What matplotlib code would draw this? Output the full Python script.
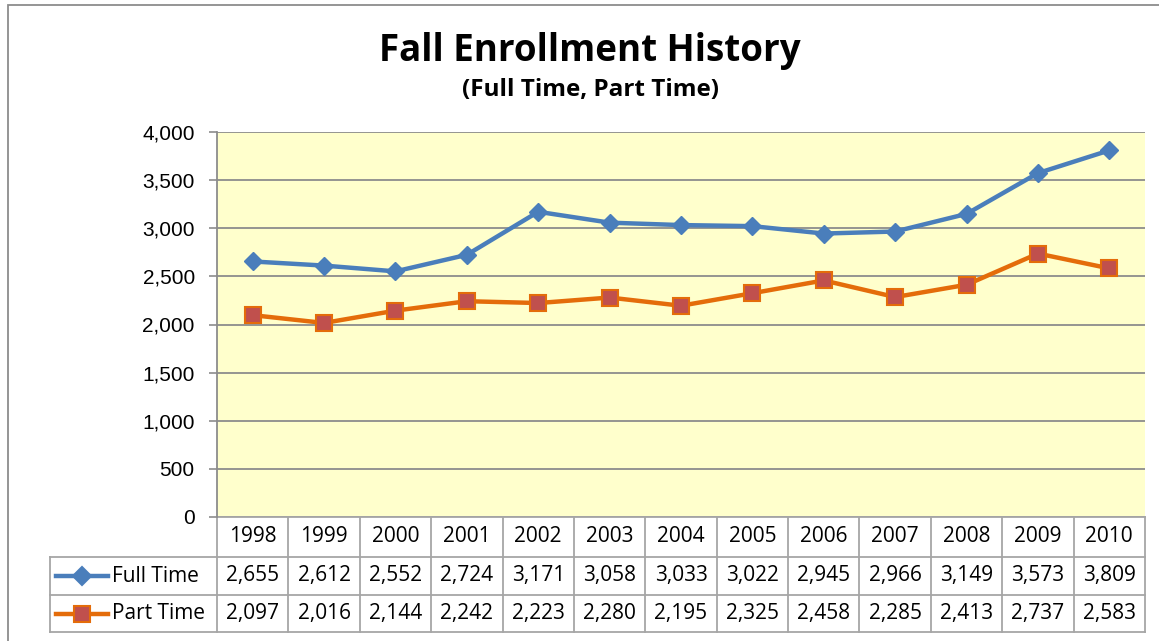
import matplotlib
matplotlib.use('Agg')
import matplotlib.pyplot as plt
from matplotlib.patches import Rectangle
from matplotlib.lines import Line2D
import matplotlib.transforms as mtransforms
import numpy as np

years = ['1998', '1999', '2000', '2001', '2002', '2003', '2004',
         '2005', '2006', '2007', '2008', '2009', '2010']
full_time = [2655, 2612, 2552, 2724, 3171, 3058, 3033, 3022, 2945, 2966, 3149, 3573, 3809]
part_time = [2097, 2016, 2144, 2242, 2223, 2280, 2195, 2325, 2458, 2285, 2413, 2737, 2583]
y_ticks = [0, 500, 1000, 1500, 2000, 2500, 3000, 3500, 4000]

W, H = 1159, 641
fig = plt.figure(figsize=(W / 100, H / 100), dpi=100)

# plot area in pixels
left, right, top, bottom = 217, 1145, 132, 517
ax = fig.add_axes([left / W, 1 - bottom / H, (right - left) / W, (bottom - top) / H])
ax.set_facecolor('#FFFFCC')

grid_col = '#8C8C8C'
x = np.arange(len(years))
ax.plot(x, full_time, color='#4A7EBB', lw=3.2, marker='D', ms=9,
        mfc='#4A7EBB', mec='#4A7EBB', zorder=3, clip_on=False)
ax.plot(x, part_time, color='#E46C0A', lw=3.2, marker='s', ms=12,
        mfc='#C0504D', mec='#E46C0A', mew=1.5, zorder=3, clip_on=False)

ax.set_xlim(-0.5, len(years) - 0.5)
ax.set_ylim(0, 4000)
ax.set_yticks(y_ticks)
ax.set_yticklabels([f'{v:,}' for v in y_ticks], fontsize=15, family='Liberation Sans')
ax.set_xticks([])
ax.yaxis.grid(True, color=grid_col, lw=1.3)
ax.set_axisbelow(True)
ax.tick_params(axis='y', length=6, width=1.2, color=grid_col, pad=10)
for s in ['top', 'right', 'bottom']:
    ax.spines[s].set_visible(False)
ax.spines['left'].set_color(grid_col)
ax.spines['left'].set_linewidth(1.3)

# data table below the plot
ph = bottom - top
row_edges = [517, 557, 595, 632]
ry = [-(r - bottom) / ph for r in row_edges]
trans = mtransforms.blended_transform_factory(ax.transData, ax.transAxes)
tkw = dict(color='#A6A6A6', lw=1.3, clip_on=False)
leg_x = (50 - left) / (right - left)

for i in range(len(years) + 1):
    ax.add_line(Line2D([i - 0.5, i - 0.5], [ry[0], ry[3]], transform=trans, **tkw))
for k, yy in enumerate(ry):
    if k == 0:
        ax.add_line(Line2D([-0.5, len(years) - 0.5], [yy, yy], transform=trans, **tkw))
    else:
        ax.add_line(Line2D([leg_x, 1], [yy, yy], transform=ax.transAxes, **tkw))
ax.add_line(Line2D([leg_x, leg_x], [ry[1], ry[3]], transform=ax.transAxes, **tkw))

cell_font = dict(fontsize=15, family='Open Sans', ha='center', va='center')
for i, yr in enumerate(years):
    ax.text(i, (ry[0] + ry[1]) / 2, yr, transform=trans, **cell_font)
    ax.text(i, (ry[1] + ry[2]) / 2, f'{full_time[i]:,}', transform=trans, **cell_font)
    ax.text(i, (ry[2] + ry[3]) / 2, f'{part_time[i]:,}', transform=trans, **cell_font)

# legend keys in the table
kx0, kx1 = (56 - left) / (right - left), (108 - left) / (right - left)
for yy0, yy1, col, mk, ms, mfc, name in [
        (ry[1], ry[2], '#4A7EBB', 'D', 9, '#4A7EBB', 'Full Time'),
        (ry[2], ry[3], '#E46C0A', 's', 12, '#C0504D', 'Part Time')]:
    ym = (yy0 + yy1) / 2
    ax.add_line(Line2D([kx0, kx1], [ym, ym], transform=ax.transAxes, color=col,
                       lw=3.2, clip_on=False))
    ax.add_line(Line2D([(kx0 + kx1) / 2], [ym], transform=ax.transAxes, marker=mk,
                       ms=ms, mfc=mfc, mec=col, mew=1.5, clip_on=False))
    ax.text((112 - left) / (right - left), ym, name, transform=ax.transAxes,
            fontsize=15, family='Open Sans', ha='left', va='center')

# titles
fig.text(590 / W, 1 - 51 / H, 'Fall Enrollment History', fontsize=26.5, fontweight='bold',
         family='Open Sans', ha='center', va='center')
fig.text(590 / W, 1 - 90 / H, '(Full Time, Part Time)', fontsize=17.5, fontweight='bold',
         family='Open Sans', ha='center', va='center')

# chart border
fig.patches.append(Rectangle((8 / W, -0.1), 1.2, 1 - 5 / H + 0.1, transform=fig.transFigure,
                             fill=False, ec='#8C8C8C', lw=1.3))

fig.savefig('out.png', dpi=100)
